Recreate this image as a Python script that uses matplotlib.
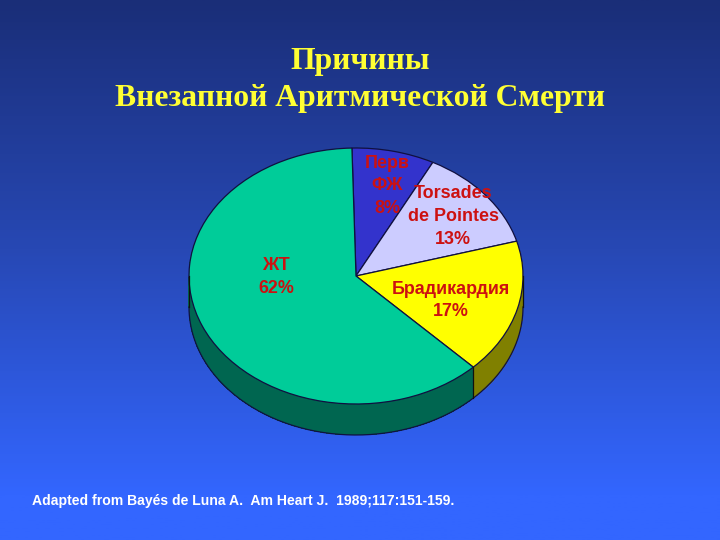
import matplotlib
matplotlib.use("Agg")
import matplotlib.pyplot as plt
import numpy as np
from matplotlib.colors import LinearSegmentedColormap

labels = ["Перв\nФЖ\n8%", "Torsades\nde Pointes\n13%", "Брадикардия\n17%", "ЖТ\n62%"]
values = [8, 13, 17, 62]
top_colors = ["#3333cc", "#ccccff", "#ffff00", "#00cc99"]
side_colors = ["#1a1a66", "#666680", "#808000", "#006650"]
label_pos = [(387, 186), (453, 216.5), (451, 300.5), (276, 277)]
title = "Причины\nВнезапной Аритмической Смерти"
source = "Adapted from Bayés de Luna A.  Am Heart J.  1989;117:151-159."

W, H = 720, 540
CX, CY, RX, RY, DEPTH = 356, 276, 167, 128, 31
START = 91.4

fig = plt.figure(figsize=(W / 100, H / 100), dpi=100)

# background gradient
bg = fig.add_axes([0, 0, 1, 1])
cmap = LinearSegmentedColormap.from_list("bg", ["#1a2e78", "#2748b4", "#3366ff"])
bg.imshow(np.linspace(0, 1, 256).reshape(-1, 1), cmap=cmap, aspect="auto", vmin=0, vmax=0.92)
bg.axis("off")

# pie axes: unit circle maps onto the ellipse
pad = 1.3
ax = fig.add_axes([(CX - pad * RX) / W, 1 - (CY + pad * RY) / H, 2 * pad * RX / W, 2 * pad * RY / H])

# side, stacked layers from bottom up
dz = DEPTH / RY
for off in np.linspace(dz, 0, 40)[:-1]:
    ax.pie(values, colors=side_colors, startangle=START, counterclock=False,
           center=(0, -off), frame=False, wedgeprops={"linewidth": 0.6, "edgecolor": "none", "antialiased": False})

# lower outline and vertical edges of the side
t = np.radians(np.linspace(180, 360, 200))
ax.plot(np.cos(t), np.sin(t) - dz, color="#101040", lw=0.9)
bounds = START - 3.6 * np.cumsum(values)
front = np.radians(bounds[2])
for x, y in [(np.cos(front), np.sin(front)), (-1, 0), (1, 0)]:
    ax.plot([x, x], [y, y - dz], color="#101010", lw=0.9)

# top face
ax.pie(values, colors=top_colors, startangle=START, counterclock=False, frame=False,
       wedgeprops={"linewidth": 0.9, "edgecolor": "#101040"})

ax.set_aspect("auto")
ax.set_xlim(-pad, pad)
ax.set_ylim(-pad, pad)
ax.axis("off")

fig.text(0.5, 1 - 80 / H, title, ha="center", va="center", family="Liberation Serif", weight="bold",
         fontsize=22.8, color="#ffff33", linespacing=1.37)
for text, (x, y) in zip(labels, label_pos):
    fig.text(x / W, 1 - y / H, text, ha="center", va="center", family="Liberation Sans", weight="bold",
             fontsize=12.9, color="#cc1111", linespacing=1.45)
fig.text(32 / W, 1 - 501 / H, source, ha="left", va="center", family="Liberation Sans", weight="bold",
         fontsize=10.1, color="#ffffff")

fig.savefig("out.png", dpi=100)
